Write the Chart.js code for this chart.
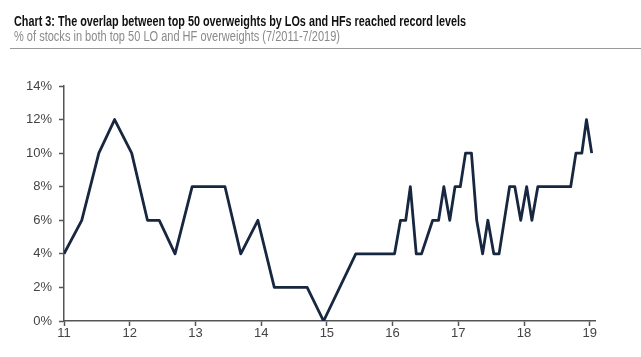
<!DOCTYPE html>
<html>
<head>
<meta charset="utf-8">
<script src="https://cdn.jsdelivr.net/npm/chart.js@4/dist/chart.umd.min.js"></script>
<style>
  html, body { margin: 0; padding: 0; background: #fff; }
  #wrap { position: relative; width: 641px; height: 357px; overflow: hidden; }
  #chart { position: absolute; left: 0; top: 0; }
  .hdr { position: absolute; left: 14px; white-space: nowrap; transform-origin: 0 0;
         font-family: "Liberation Sans Narrow", "Arial Narrow", "Liberation Sans", Arial, sans-serif; }
  #title { top: 13px; font-size: 14px; font-weight: bold; color: #111; }
  #subtitle { top: 28px; font-size: 14px; color: #8a8a8a; }
  #rule { position: absolute; left: 10px; top: 48px; width: 631px; height: 0; border-top: 1.5px solid #9a9a9a; }
</style>
</head>
<body>
<div id="wrap">
  <canvas id="chart" width="641" height="357"></canvas>
  <div class="hdr" id="title">Chart 3: The overlap between top 50 overweights by LOs and HFs reached record levels</div>
  <div class="hdr" id="subtitle">% of stocks in both top 50 LO and HF overweights (7/2011-7/2019)</div>
  <div id="rule"></div>
</div>
<script>
// Dates as fractional years (11 = 2011 label)
const dates = [11.0, 11.27, 11.53, 11.77, 12.03, 12.27, 12.45, 12.69, 12.95, 13.45,
               13.69, 13.95, 14.2, 14.7, 14.95, 15.44, 16.03, 16.12, 16.2, 16.27,
               16.36, 16.44, 16.61, 16.7, 16.78, 16.87, 16.95, 17.03, 17.11, 17.2,
               17.28, 17.37, 17.45, 17.54, 17.62, 17.78, 17.86, 17.95, 18.04, 18.12,
               18.21, 18.71, 18.79, 18.88, 18.95, 19.03];
// % of stocks in both top 50 LO and HF overweights
const overlap = [4, 6, 10, 12, 10, 6, 6, 4, 8, 8,
                 4, 6, 2, 2, 0, 4, 4, 6, 6, 8,
                 4, 4, 6, 6, 8, 6, 8, 8, 10, 10,
                 6, 4, 6, 4, 4, 8, 8, 6, 8, 6,
                 8, 8, 10, 10, 12, 10];
const xTicks = [11, 12, 13, 14, 15, 16, 17, 18, 19];
const yTicks = [0, 2, 4, 6, 8, 10, 12, 14];

// fit header widths
function fit(id, target) {
  const el = document.getElementById(id);
  const w = el.getBoundingClientRect().width;
  if (w > 0) el.style.transform = 'scaleX(' + (target / w) + ')';
}
fit('title', 452);
fit('subtitle', 326);

const axisColor = '#555';
const tickFont = { family: '"Liberation Sans", Arial, sans-serif', size: 13 };

new Chart(document.getElementById('chart'), {
  type: 'line',
  data: {
    datasets: [{
      data: dates.map((d, i) => ({ x: d, y: overlap[i] })),
      borderColor: '#17273f',
      borderWidth: 2.8,
      borderJoinStyle: 'round',
      pointRadius: 0,
      tension: 0,
      fill: false
    }]
  },
  options: {
    responsive: false,
    animation: false,
    events: [],
    layout: { padding: { top: 86, right: 46, bottom: 6, left: 0 } },
    plugins: { legend: { display: false }, tooltip: { enabled: false } },
    scales: {
      x: {
        type: 'linear',
        min: 11,
        max: 19.08,
        afterBuildTicks: s => { s.ticks = xTicks.map(v => ({ value: v })); },
        afterFit: s => { s.height = 30; },
        grid: { drawOnChartArea: false, drawTicks: true, tickLength: 5, color: axisColor, tickWidth: 1.5 },
        border: { display: true, color: axisColor, width: 1.5 },
        ticks: { color: '#444', font: tickFont, padding: 0, maxRotation: 0, autoSkip: false,
                 callback: v => String(v) }
      },
      y: {
        min: 0,
        max: 14,
        afterBuildTicks: s => { s.ticks = yTicks.map(v => ({ value: v })); },
        afterFit: s => { s.width = 64; },
        grid: { drawOnChartArea: false, drawTicks: true, tickLength: 5, color: axisColor, tickWidth: 1.5 },
        border: { display: true, color: axisColor, width: 1.5 },
        ticks: { color: '#444', font: tickFont, padding: 7, callback: v => v + '%' }
      }
    }
  }
});
</script>
</body>
</html>
